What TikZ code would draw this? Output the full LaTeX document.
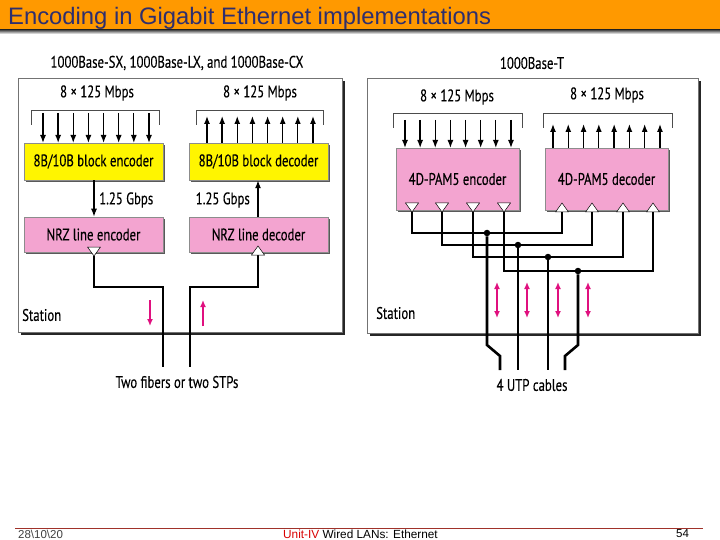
\documentclass[tikz,border=0pt]{standalone}
\usepackage{fontspec}
\setmainfont{PT Sans}[FakeStretch=0.76,FakeBold=0.2]
\newfontfamily\arialfont{Liberation Sans}
\usetikzlibrary{arrows.meta}
\definecolor{barorange}{HTML}{FF9900}
\definecolor{titleblue}{HTML}{2E2E6E}
\definecolor{boxyellow}{HTML}{FFF500}
\definecolor{boxpink}{HTML}{F3A4D0}
\definecolor{arrmag}{HTML}{E0107F}
\definecolor{footred}{HTML}{A0322A}
\begin{document}
\begin{tikzpicture}[x=1pt,y=-1pt,
  station/.style={draw=black!55, line width=0.6pt, fill=white, inner sep=0pt,
    preaction={fill=black!85, transform canvas={xshift=3pt, yshift=-3pt}}},
  blockbox/.style={draw=black!45, line width=0.5pt, inner sep=0pt, font=\fontsize{16.8}{18}\selectfont,
    preaction={fill=black!65, transform canvas={xshift=2pt, yshift=-2pt}}},
  ybox/.style={blockbox, fill=boxyellow, minimum width=139pt, minimum height=37pt},
  nrzbox/.style={blockbox, fill=boxpink, minimum width=139pt, minimum height=35pt},
  pambox/.style={blockbox, fill=boxpink, minimum width=123pt, minimum height=62pt},
  lbl/.style={font=\fontsize{16.8}{18}\selectfont, inner sep=0pt},
  bracket/.style={draw=black!70, line width=0.7pt},
  bitarrow/.style={line width=1.3pt, -{Latex[length=8pt,width=6pt]}},
  tri/.style={draw=black, fill=white, line width=0.5pt, line join=miter},
  thincable/.style={line width=1.6pt},
  thickcable/.style={line width=2.6pt},
  magarrow/.style={draw=arrmag, line width=1.4pt, -{Latex[length=7pt,width=6pt]}},
  magdouble/.style={draw=arrmag, line width=1.4pt, {Latex[length=7pt,width=6pt]}-{Latex[length=7pt,width=6pt]}},
  dot/.style={circle, fill=black, inner sep=0pt, minimum size=6.5pt}
]
\useasboundingbox (0,0) rectangle (720,540);

% title bar
\fill[barorange] (0,0) rectangle (720,30);
\shade[top color=black!70, bottom color=white] (0,30) rectangle (720,34);
\node[anchor=base west, text=titleblue, inner sep=0pt, font=\arialfont\fontsize{23.8}{26}\selectfont] (title) at (8,25) {Encoding in Gigabit Ethernet implementations};

% footer
\draw[footred, line width=0.8pt] (15,528) -- (703,528);
\node[anchor=base west, inner sep=0pt, text=black!75, font=\arialfont\fontsize{11.5}{13}\selectfont] (date) at (18,538) {28\textbackslash10\textbackslash20};
\node[anchor=base west, inner sep=0pt, font=\arialfont\fontsize{11.8}{13}\selectfont] (foot) at (283,538) {\textcolor{red!85!black}{Unit-IV} Wired LANs: Ethernet};
\node[anchor=base west, inner sep=0pt, font=\arialfont\fontsize{11.5}{13}\selectfont] (page) at (676,537) {54};

% ================= LEFT PANEL =================
\node[lbl] (headL) at (177,63) {1000Base-SX, 1000Base-LX, and 1000Base-CX};
\node[station, minimum width=324pt, minimum height=254pt] (stL) at (180,205) {};

\node[lbl] (mbpsL1) at (97,93) {8 × 125 Mbps};
\node[lbl] (mbpsL2) at (260,93) {8 × 125 Mbps};
\draw[bracket] (31,125) |- (159,110) -- (159,125);
\draw[bracket] (196,125) |- (323,110) -- (323,125);

\node[ybox] (enc) at (93.5,161.5) {8B/10B block encoder};
\node[ybox] (dec) at (258.5,161.5) {8B/10B block decoder};
\foreach \i in {0,...,7} {
  \draw[bitarrow] ({43+\i*15.14},113) -- ({43+\i*15.14},143);
  \draw[bitarrow] ({207+\i*15.14},143) -- ({207+\i*15.14},116);
}

\node[nrzbox] (nrze) at (93.5,234.5) {NRZ line encoder};
\node[nrzbox] (nrzd) at (258.5,234.5) {NRZ line decoder};
\draw[bitarrow] (enc.south -| 94,0) -- (nrze.north -| 94,0);
\draw[bitarrow] (nrzd.north -| 258,0) -- (dec.south -| 258,0);
\node[lbl, anchor=west] (gL) at (99,200) {1.25 Gbps};
\node[lbl, anchor=east] (gR) at (250,200) {1.25 Gbps};

\coordinate (tL) at (94,256);
\coordinate (tR) at (258,255);
\coordinate (bendL) at (163,287);
\coordinate (bendR) at (190,287);
\coordinate (fibL) at (163,367);
\coordinate (fibR) at (190,367);
\draw[thickcable] (tL) |- (bendL) -- (fibL);
\draw[thickcable] (tR) |- (bendR) -- (fibR);
\draw[tri] (tL) -- ++(-6.5,-9) -- ++(13,0) -- cycle;
\draw[tri] (tR) ++(-6.5,0) -- ++(13,0) -- ++(-6.5,-9) -- cycle;

\draw[magarrow] (150,300) -- (150,326);
\draw[magarrow] (203,326) -- (203,300);
\node[lbl, anchor=west] (stLabL) at (22,315) {Station};
\node[lbl] (fibLabel) at (177,382) {Two fibers or two STPs};

% ================= RIGHT PANEL =================
\node[lbl] (headR) at (532,63) {1000Base-T};
\node[station, minimum width=331pt, minimum height=255pt] (stR) at (532.5,205.5) {};

\node[lbl] (mbpsR1) at (457,97) {8 × 125 Mbps};
\node[lbl] (mbpsR2) at (607,95) {8 × 125 Mbps};
\draw[bracket] (393,128) |- (522,113) -- (522,128);
\draw[bracket] (543,128) |- (672,113) -- (672,128);

\node[pambox] (pe) at (457.5,179) {4D-PAM5 encoder};
\node[pambox] (pd) at (606.5,179) {4D-PAM5 decoder};
\foreach \i in {0,...,7} {
  \draw[bitarrow] ({405+\i*15.14},120) -- ({405+\i*15.14},148);
  \draw[bitarrow] ({553+\i*15.28},148) -- ({553+\i*15.28},124);
}

% triangle anchor points
\foreach \n/\x in {1/412,2/442,3/473,4/504} {
  \coordinate (te\n) at (\x,212);
}
\foreach \n/\x in {1/562,2/592,3/623,4/653} {
  \coordinate (td\n) at (\x,212);
}
% junctions
\node[dot] (j1) at (487,233) {};
\node[dot] (j2) at (518,245) {};
\node[dot] (j3) at (548,257) {};
\node[dot] (j4) at (578,271) {};
\draw[thincable] (te1) |- (j1) -| (td1);
\draw[thincable] (te2) |- (j2) -| (td2);
\draw[thincable] (te3) |- (j3) -| (td3);
\draw[thincable] (te4) |- (j4) -| (td4);
\foreach \n in {1,...,4} {
  \draw[tri] (te\n) -- ++(-6.5,-9) -- ++(13,0) -- cycle;
  \draw[tri] (td\n) ++(-6.5,0) -- ++(13,0) -- ++(-6.5,-9) -- cycle;
}
% UTP cables
\coordinate (u1) at (500,370);
\coordinate (u2) at (518,370);
\coordinate (u3) at (548,370);
\coordinate (u4) at (565,370);
\draw[thickcable] (j1) -- (487,345) -- (500,356) -- (u1);
\draw[thickcable] (j2) -- (u2);
\draw[thickcable] (j3) -- (u3);
\draw[thickcable] (j4) -- (578,345) -- (565,356) -- (u4);

\foreach \x in {497,527,558,588} {
  \draw[magdouble] (\x,282) -- (\x,318);
}
\node[lbl, anchor=west] (stLabR) at (376,313) {Station};
\node[lbl] (utpLabel) at (532,385) {4 UTP cables};
\end{tikzpicture}
\end{document}
